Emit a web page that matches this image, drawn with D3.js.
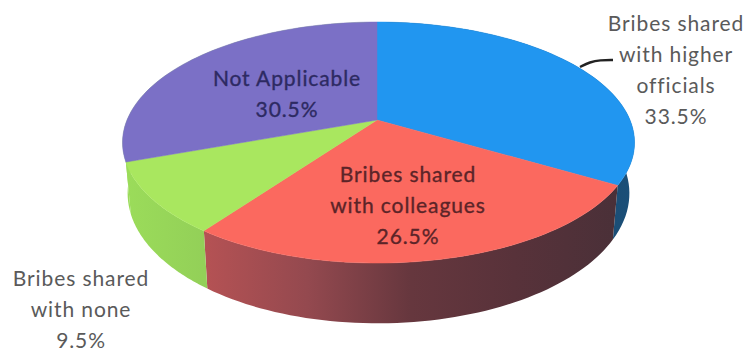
<!DOCTYPE html>
<html>
<head>
<meta charset="utf-8">
<script src="https://cdn.jsdelivr.net/npm/d3@7/dist/d3.min.js"></script>
<style>
html,body{margin:0;background:#fff}
svg{display:block}
text{font-family:Lato,"Open Sans",sans-serif;text-anchor:middle;letter-spacing:.9px}
</style>
</head>
<body>
<svg id="chart" width="750" height="354"></svg>
<script>
// Shares of bribe money, clockwise from twelve o'clock
const categories = ["Bribes shared with higher officials", "Bribes shared with colleagues", "Bribes shared with none", "Not Applicable"];
const shares = [33.5, 26.5, 9.5, 30.5];
const topColors = ["#2196f0", "#fb695f", "#a9e75f", "#7b70c6"];
const sideStops = [
  ["#173f5c", "#1b4f78"],
  ["#b55254", "#94494f", "#66373e", "#58323a", "#4a3038"],
  ["#9bdc5a", "#93d058"],
  ["#9bdc5a", "#9bdc5a"]
];
const labelLines = [
  ["Bribes shared", "with higher", "officials", "33.5%"],
  ["Bribes shared", "with colleagues", "26.5%"],
  ["Bribes shared", "with none", "9.5%"],
  ["Not Applicable", "30.5%"]
];
const labelColors = ["#5a5a5a", "#5c2428", "#5a5a5a", "#2d2a62"];
const labelAnchors = [[676, 31], [408, 182], [81, 286], [287, 86]];
const lineGap = 31;

const svg = d3.select("#chart");
const defs = svg.append("defs");

// Tilted disc: unit circle in the table plane, seen with perspective
const centerX = 377, centerY = 120;
const scaleX = d3.scaleLinear().domain([-1, 0, 1]).range([centerX - 250, centerX, centerX + 253]);
const scaleY = d3.scaleLinear().domain([-1, 1]).range([centerY + 116.3, centerY - 116.3]);
const tilt = 0.187, rimDepth = 49, rimShrink = 0.98;

const project = (angle, radius, lower) => {
  const X = radius * Math.sin(angle), Y = radius * Math.cos(angle);
  const w = 1 + tilt * Y;
  const x = centerX + (scaleX(X) - centerX) / w * (lower ? rimShrink : 1);
  const y = centerY + (scaleY(Y) - centerY) / w + (lower ? rimDepth / w : 0);
  return [x, y];
};

const pie = d3.pie().sort(null)(shares);
const line = d3.line();
const arcSteps = (a0, a1) => d3.range(0, 61).map(i => a0 + (a1 - a0) * i / 60);

// Side wall of each slice, drawn first so the top face overlaps it
pie.forEach((slice, i) => {
  const angles = arcSteps(slice.startAngle, slice.endAngle);
  const upper = angles.map(a => project(a, 1, false));
  const lower = angles.map(a => project(a, 1, true)).reverse();
  const xs = upper.map(p => p[0]);
  const grad = defs.append("linearGradient")
    .attr("id", "side" + i).attr("gradientUnits", "userSpaceOnUse")
    .attr("x1", d3.min(xs)).attr("x2", d3.max(xs)).attr("y1", 0).attr("y2", 0);
  sideStops[i].forEach((c, j, all) => grad.append("stop")
    .attr("offset", j / (all.length - 1)).attr("stop-color", c));
  svg.append("path").attr("d", line(upper.concat(lower)) + "Z")
    .attr("fill", `url(#side${i})`);
});

// Top faces
svg.selectAll("path.face").data(pie).join("path")
  .attr("class", "face")
  .attr("fill", (d, i) => topColors[i])
  .attr("stroke", (d, i) => topColors[i])
  .attr("stroke-width", 0.5)
  .attr("d", d => line([[centerX, centerY]].concat(arcSteps(d.startAngle, d.endAngle).map(a => project(a, 1, false)))) + "Z");

// Leader line for the outside label of the largest slice
svg.append("path")
  .attr("d", d3.line().curve(d3.curveBasis)([[580, 67], [590, 62], [600, 60], [613, 60]]))
  .attr("fill", "none").attr("stroke", "#222").attr("stroke-width", 2.4);

// Labels: the ones printed on a slice get a slightly heavier stroke
labelLines.forEach((lines, i) => {
  const text = svg.append("text").attr("fill", labelColors[i]).attr("font-size", 21);
  if (labelColors[i] !== "#5a5a5a") text.attr("stroke", labelColors[i]).attr("stroke-width", 0.35);
  lines.forEach((t, j) => text.append("tspan")
    .attr("x", labelAnchors[i][0]).attr("y", labelAnchors[i][1] + j * lineGap).text(t));
});
</script>
</body>
</html>
